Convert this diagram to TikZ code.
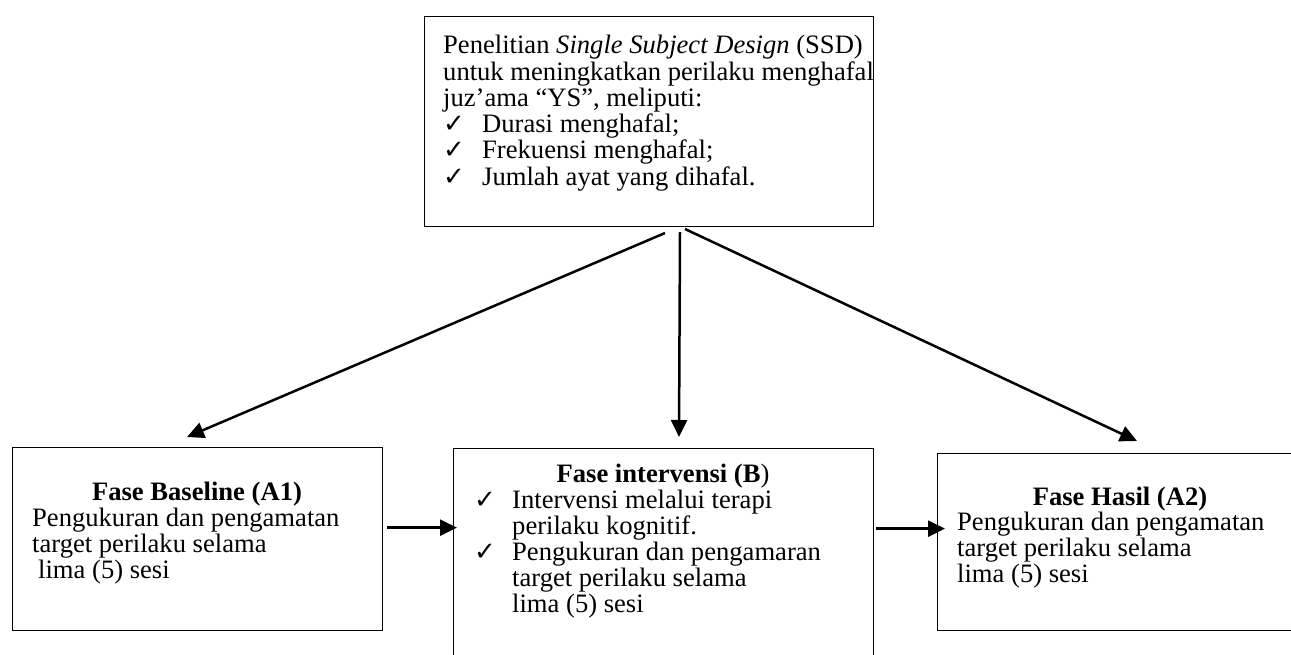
\documentclass[tikz,border=0pt]{standalone}
\usepackage{fontspec}
\setmainfont{Liberation Serif}
\newfontfamily\symfont{DejaVu Sans}
\usetikzlibrary{arrows.meta}

\newcommand{\tick}{{\symfont\fontsize{26}{26}\selectfont ✓}}

\tikzset{
  phasebox/.style={draw, line width=1.3pt, inner sep=0pt, anchor=north west},
  txt/.style={anchor=base west, inner sep=0pt, font=\fontsize{26.6}{26}\selectfont},
  hdr/.style={anchor=base, inner sep=0pt, font=\fontsize{26.6}{26}\selectfont\bfseries},
  flow/.style={line width=2.5pt, -{Triangle[length=17pt, width=16pt]}}
}

\begin{document}
\begin{tikzpicture}[x=1pt, y=-1pt]

\useasboundingbox (0,0) rectangle (1291,654);
\clip (0,0) rectangle (1291,654);

% boxes
\node[phasebox, minimum width=449pt, minimum height=210pt] (ssd) at (424,16) {};
\node[phasebox, minimum width=370pt, minimum height=183pt] (base) at (12,447) {};
\node[phasebox, minimum width=420pt, minimum height=220pt] (interv) at (453,448) {};
\node[phasebox, minimum width=360pt, minimum height=177pt] (hasil) at (937,453) {};

% top box text
\node[txt] (t1) at (443,53)  {Penelitian \textit{Single Subject Design} (SSD)};
\node[txt] (t2) at (443,80)  {untuk meningkatkan perilaku menghafal};
\node[txt] (t3) at (443,106) {juz’ama “YS”, meliputi:};
\node[txt] (c1) at (443,132) {\tick};
\node[txt] (t4) at (482,132) {Durasi menghafal;};
\node[txt] (c2) at (443,158) {\tick};
\node[txt] (t5) at (482,158) {Frekuensi menghafal;};
\node[txt] (c3) at (443,185) {\tick};
\node[txt] (t6) at (482,185) {Jumlah ayat yang dihafal.};

% baseline
\node[hdr] (h1) at (197,500) {Fase Baseline (A1)};
\node[txt] (b1) at (32,526) {Pengukuran dan pengamatan};
\node[txt] (b2) at (32,552) {target perilaku selama};
\node[txt] (b3) at (38,578) {lima (5) sesi};

% intervensi
\node[hdr] (h2) at (663,482) {Fase intervensi (B\mdseries)};
\node[txt] (c4) at (474,508) {\tick};
\node[txt] (i1) at (512,508) {Intervensi melalui terapi};
\node[txt] (i2) at (512,534) {perilaku kognitif.};
\node[txt] (c5) at (474,560) {\tick};
\node[txt] (i3) at (512,560) {Pengukuran dan pengamaran};
\node[txt] (i4) at (512,586) {target perilaku selama};
\node[txt] (i5) at (512,612) {lima (5) sesi};

% hasil
\node[hdr] (h3) at (1120,505) {Fase Hasil (A2)};
\node[txt] (r1) at (957,530) {Pengukuran dan pengamatan};
\node[txt] (r2) at (957,556) {target perilaku selama};
\node[txt] (r3) at (957,582) {lima (5) sesi};

% arrows
\coordinate (sL) at (665,233);
\coordinate (sM) at (680,232);
\coordinate (sR) at (685,229);
\coordinate (eL) at (187,437);
\coordinate (eM) at (679,437);
\coordinate (eR) at (1137,441);
\draw[flow] (sL) -- (eL);
\draw[flow] (sM) -- (eM);
\draw[flow] (sR) -- (eR);

\coordinate (hA) at ([xshift=4pt, yshift=11.5pt]base.east);
\coordinate (hB) at ([xshift=2pt, yshift=30pt]interv.east);
\draw[flow, shorten >=-4pt] (hA) -- (interv.west |- hA);
\draw[flow, shorten >=-8pt] (hB) -- (hasil.west |- hB);

\end{tikzpicture}
\end{document}
